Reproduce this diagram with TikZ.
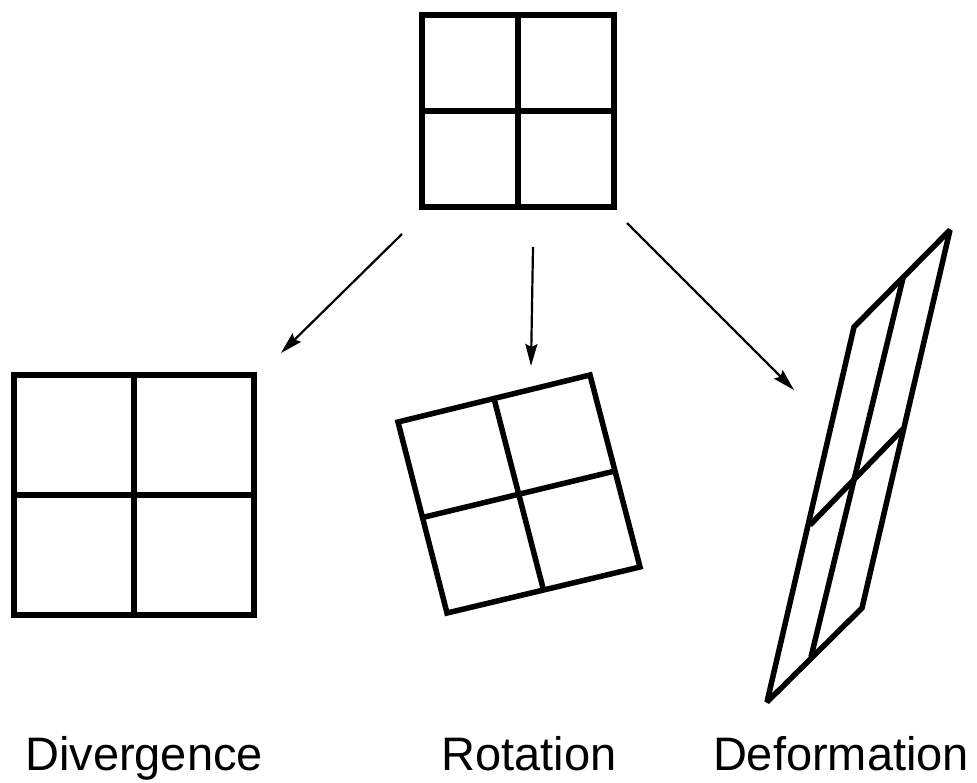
\documentclass[tikz,border=0pt]{standalone}
\usepackage{fontspec}
\setmainfont{Liberation Sans}
\usetikzlibrary{arrows.meta,calc}
\begin{document}
\begin{tikzpicture}[x=1pt,y=-1pt,
  grid/.style={line width=5.5pt,line join=miter,miter limit=2},
  flow/.style={line width=2.2pt,-{Stealth[length=22pt,width=12pt,inset=3pt]}},
  caption/.style={font=\fontsize{47}{56}\selectfont,anchor=base,inner sep=0pt}]
\useasboundingbox (0,0) rectangle (977,782);

% original square
\draw[grid] (422,15) rectangle (614,207);
\draw[grid] (518,15) -- (518,207) (422,111) -- (614,111);

% divergence: enlarged square
\draw[grid] (14,375) rectangle (254,615);
\draw[grid] (134,375) -- (134,615) (14,495) -- (254,495);

% rotation: tilted square
\coordinate (rTL) at (398,422);
\coordinate (rTR) at (590,375);
\coordinate (rBR) at (640,567);
\coordinate (rBL) at (447,613);
\draw[grid] (rTL) -- (rTR) -- (rBR) -- (rBL) -- cycle;
\draw[grid] ($(rTL)!0.5!(rTR)$) -- ($(rBL)!0.5!(rBR)$);
\draw[grid] ($(rTL)!0.5!(rBL)$) -- ($(rTR)!0.5!(rBR)$);

% deformation: sheared square
\coordinate (dTL) at (854,327);
\coordinate (dTR) at (950,230);
\coordinate (dBR) at (862,608);
\coordinate (dBL) at (767,702);
\draw[grid] (dTL) -- (dTR) -- (dBR) -- (dBL) -- cycle;
\draw[grid] (903,278) -- (811,657);
\draw[grid] (810,525) -- (903,429);

% arrows from the original square
\coordinate (a1s) at (402,234); \coordinate (a1e) at (281,353);
\coordinate (a2s) at (533,247); \coordinate (a2e) at (531,366);
\coordinate (a3s) at (627,223); \coordinate (a3e) at (794,390);
\draw[flow] (a1s) -- (a1e);
\draw[flow] (a2s) -- (a2e);
\draw[flow] (a3s) -- (a3e);

% captions
\node[caption] (cDiv) at (144,770) {Divergence};
\node[caption] (cRot) at (529,770) {Rotation};
\node[caption] (cDef) at (841,770) {Deformation};
\end{tikzpicture}
\end{document}
